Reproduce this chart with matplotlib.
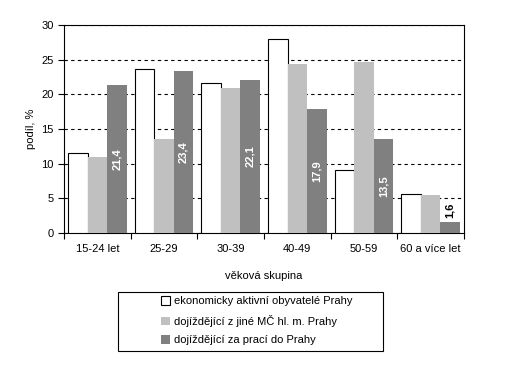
import numpy as np
import matplotlib.pyplot as plt
from matplotlib.patches import Rectangle

plt.rcParams['font.family'] = ['Liberation Sans', 'DejaVu Sans']
plt.rcParams['font.size'] = 8

categories = ["15-24 let", "25-29", "30-39", "40-49", "50-59", "60 a více let"]
aktivni = [11.6, 23.6, 21.7, 28.0, 9.1, 5.6]
z_jine_mc = [11.0, 13.6, 20.9, 24.4, 24.7, 5.5]
do_prahy = [21.4, 23.4, 22.1, 17.9, 13.5, 1.6]
labels = ["ekonomicky aktivní obyvatelé Prahy",
          "dojíždějící z jiné MČ hl. m. Prahy",
          "dojíždějící za prací do Prahy"]

fig = plt.figure(figsize=(5.07, 3.66), dpi=100)
ax = fig.add_axes([64 / 507, 1 - 233 / 366, 400 / 507, 208 / 366])

x = np.arange(len(categories))
w = 0.293
b1 = ax.bar(x - w, aktivni, w, color="white", edgecolor="black", linewidth=0.8, label=labels[0], zorder=3)
b2 = ax.bar(x, z_jine_mc, w, color="#c0c0c0", label=labels[1], zorder=3)
b3 = ax.bar(x + w, do_prahy, w, color="#808080", label=labels[2], zorder=3)

for xi, v in zip(x, do_prahy):
    if v > 5:
        ax.text(xi + w, v / 2, f"{v:.1f}".replace(".", ","), rotation=90, ha="center", va="center",
                color="white", fontweight="bold", fontsize=8, zorder=4)
    else:
        ax.text(xi + w, v + 0.5, f"{v:.1f}".replace(".", ","), rotation=90, ha="center", va="bottom",
                color="black", fontweight="bold", fontsize=8, zorder=4)

ax.set_xlim(-0.5, len(categories) - 0.5)
ax.set_ylim(0, 30)
ax.set_yticks(range(0, 31, 5))
ax.yaxis.grid(True, linestyle=(0, (3, 3)), color="black", linewidth=0.8, zorder=0)
ax.set_axisbelow(True)

ax.set_xticks(x)
ax.set_xticklabels(categories)
ax.set_xticks(np.arange(-0.5, len(categories), 1), minor=True)
ax.tick_params(axis="x", which="major", length=0, pad=8)
ax.tick_params(axis="x", which="minor", length=4, direction="out", width=0.8)
ax.tick_params(axis="y", length=4, direction="out", width=0.8)
for s in ax.spines.values():
    s.set_linewidth(0.8)

ax.set_xlabel("věková skupina", labelpad=12)
ax.set_ylabel("podíl, %")

# legend box (wider than the entries, as in the original)
fig.patches.append(Rectangle((118 / 507, 1 - 351 / 366), 265 / 507, 59 / 366,
                             transform=fig.transFigure, fill=False,
                             edgecolor="black", linewidth=0.8))
leg = fig.legend(handles=[b1, b2, b3], labels=labels,
                 loc="upper left", bbox_to_anchor=(158 / 507, 1 - 293 / 366),
                 frameon=False,
                 handlelength=0.8, handleheight=0.8, handletextpad=0.3,
                 borderpad=0.3, labelspacing=0.75, borderaxespad=0)

fig.savefig("out.png", dpi=100)
